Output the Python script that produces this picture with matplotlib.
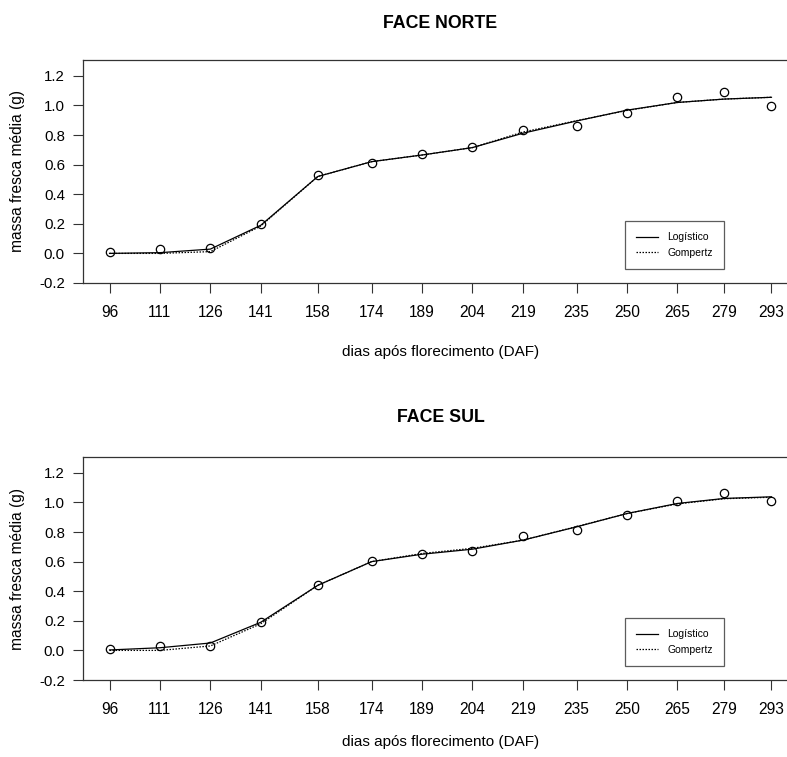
import matplotlib
matplotlib.use("Agg")
import matplotlib.pyplot as plt

plt.rcParams['font.family'] = ['Liberation Sans', 'DejaVu Sans']

dias = [96, 111, 126, 141, 158, 174, 189, 204, 219, 235, 250, 265, 279, 293]

# FACE NORTE
norte_obs = [0.011, 0.027, 0.034, 0.196, 0.528, 0.613, 0.670, 0.718, 0.835, 0.862, 0.948, 1.056, 1.090, 0.997]
norte_log = [0.0, 0.005, 0.029, 0.19, 0.52, 0.62, 0.665, 0.715, 0.812, 0.895, 0.968, 1.020, 1.043, 1.055]
norte_gom = [0.0, 0.0, 0.012, 0.185, 0.52, 0.62, 0.665, 0.715, 0.820, 0.897, 0.966, 1.020, 1.043, 1.055]

# FACE SUL
sul_obs = [0.011, 0.027, 0.032, 0.192, 0.440, 0.603, 0.652, 0.672, 0.772, 0.812, 0.914, 1.011, 1.061, 1.007]
sul_log = [0.003, 0.018, 0.050, 0.190, 0.440, 0.600, 0.650, 0.684, 0.745, 0.835, 0.925, 0.993, 1.027, 1.038]
sul_gom = [0.0, 0.0, 0.030, 0.180, 0.440, 0.600, 0.655, 0.690, 0.745, 0.837, 0.925, 0.990, 1.025, 1.035]

yticks = [-0.2, 0.0, 0.2, 0.4, 0.6, 0.8, 1.0, 1.2]

W, H = 787, 757
fig = plt.figure(figsize=(W / 100, H / 100), dpi=100)

# caixa dos eixos em pixels (x0, y base, x1, y topo), y do titulo, y do xlabel
paineis = [
    ("FACE NORTE", norte_obs, norte_log, norte_gom, (83, 283, 798, 60), 23, 352),
    ("FACE SUL", sul_obs, sul_log, sul_gom, (83, 680, 798, 457), 418, 742),
]

for titulo, obs, log, gom, (x0, yb, x1, yt), ytit, yxl in paineis:
    ax = fig.add_axes([x0 / W, 1 - yb / H, (x1 - x0) / W, (yb - yt) / H])
    ax.plot(dias, log, color='black', lw=0.9, ls='-', label='Logístico')
    ax.plot(dias, gom, color='black', lw=0.9, ls=(0, (1.2, 1.2)), label='Gompertz')
    ax.plot(dias, obs, 'o', mfc='none', mec='black', ms=6, mew=0.9)
    ax.set_xlim(88.1, 300.9)
    ax.set_ylim(-0.2, 1.307)
    ax.set_xticks(dias)
    ax.set_xticklabels([str(d) for d in dias])
    ax.set_yticks(yticks)
    ax.set_yticklabels(['%.1f' % v for v in yticks])
    ax.tick_params(direction='out', length=7, width=0.8, color='#333333')
    ax.tick_params(axis='x', pad=9, labelsize=11.2)
    ax.tick_params(axis='y', pad=6, labelsize=10.8)
    for s in ax.spines.values():
        s.set_linewidth(0.9)
        s.set_color('#333333')
    xc = ((x0 + x1) / 2) / W
    fig.text(xc, 1 - ytit / H, titulo, fontsize=12.8, fontweight='bold',
             ha='center', va='center')
    fig.text(xc, 1 - yxl / H, 'dias após florecimento (DAF)', fontsize=11,
             ha='center', va='center')
    fig.text(18 / W, 1 - ((yb + yt) / 2) / H, 'massa fresca média (g)', fontsize=11.2,
             rotation=90, ha='center', va='center')
    leg = ax.legend(loc='lower right', bbox_to_anchor=((724 - x0) / (x1 - x0), 14 / (yb - yt)),
                    borderaxespad=0, fontsize=7.5,
                    frameon=True, fancybox=False, edgecolor='#333333',
                    handlelength=2.1, borderpad=1.05, labelspacing=0.55, handletextpad=0.9)
    leg.get_frame().set_linewidth(0.9)

fig.savefig('out.png', dpi=100)
